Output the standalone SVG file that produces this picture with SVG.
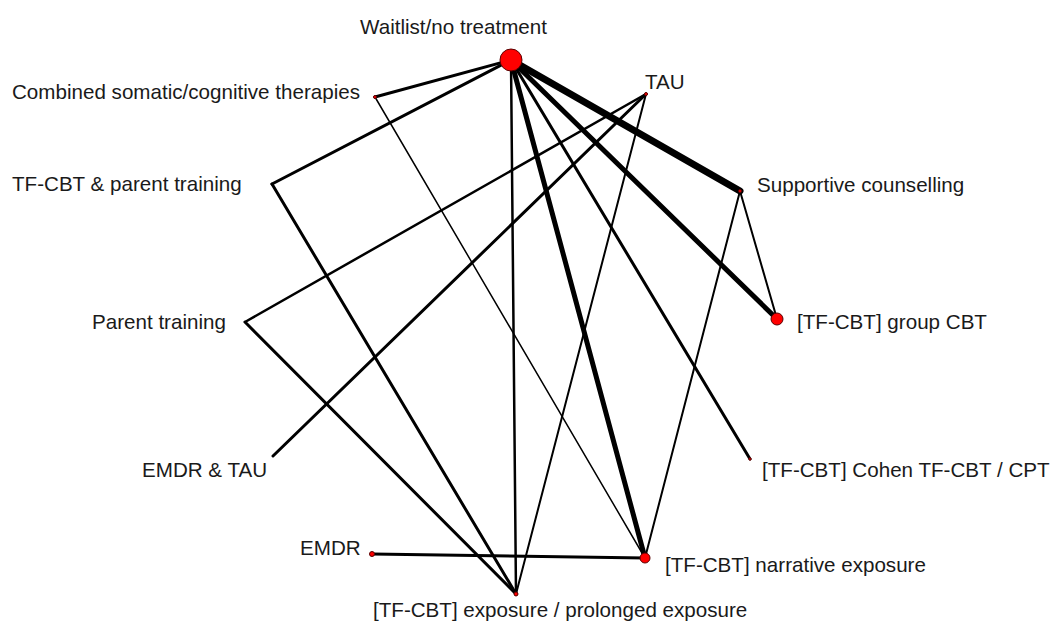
<svg xmlns="http://www.w3.org/2000/svg" width="1059" height="631" viewBox="0 0 1059 631">
<style>
.lbl{font-family:"Liberation Sans",Arial,sans-serif;font-size:20.6px;fill:#1a1a1a}
.e{stroke:#000;fill:none;stroke-linecap:round}
.n{fill:#ff0000;stroke:#5a0000;stroke-width:1}
</style>
<rect width="1059" height="631" fill="#fff"/>
<g id="connectors">
<line class="e" x1="511" y1="60" x2="375" y2="97" stroke-width="3"/>
<line class="e" x1="511" y1="60" x2="272" y2="184" stroke-width="3"/>
<line class="e" x1="511" y1="60" x2="740" y2="191" stroke-width="7"/>
<line class="e" x1="511" y1="60" x2="777" y2="319" stroke-width="5"/>
<line class="e" x1="511" y1="60" x2="750" y2="459" stroke-width="3"/>
<line class="e" x1="511" y1="60" x2="645" y2="558" stroke-width="5"/>
<line class="e" x1="511" y1="60" x2="516" y2="594" stroke-width="2.5"/>
<line class="e" x1="375" y1="97" x2="645" y2="558" stroke-width="1.5"/>
<line class="e" x1="272" y1="184" x2="516" y2="594" stroke-width="3"/>
<line class="e" x1="245" y1="322" x2="646" y2="94" stroke-width="2.5"/>
<line class="e" x1="245" y1="322" x2="516" y2="594" stroke-width="3"/>
<line class="e" x1="273" y1="456" x2="646" y2="94" stroke-width="3"/>
<line class="e" x1="646" y1="94" x2="516" y2="594" stroke-width="2"/>
<line class="e" x1="740" y1="191" x2="645" y2="558" stroke-width="2"/>
<line class="e" x1="740" y1="191" x2="777" y2="319" stroke-width="2"/>
<line class="e" x1="372" y1="554" x2="645" y2="558" stroke-width="3"/>
</g>
<g id="n-waitlist"><circle class="n" cx="511" cy="60" r="11"/><text class="lbl" x="360" y="34">Waitlist/no treatment</text></g>
<g id="n-combined"><circle class="n" cx="375" cy="97" r="1.5"/><text class="lbl" x="12" y="99">Combined somatic/cognitive therapies</text></g>
<g id="n-tau"><circle class="n" cx="646" cy="94" r="1.5"/><text class="lbl" x="645" y="89">TAU</text></g>
<g id="n-tfcbt-parent"><text class="lbl" x="12" y="191">TF-CBT &amp; parent training</text></g>
<g id="n-supportive"><circle class="n" cx="740" cy="191" r="1.5"/><text class="lbl" x="757" y="192">Supportive counselling</text></g>
<g id="n-parent"><text class="lbl" x="92" y="329">Parent training</text></g>
<g id="n-group"><circle class="n" cx="777" cy="319" r="6"/><text class="lbl" x="797" y="329">[TF-CBT] group CBT</text></g>
<g id="n-emdr-tau"><text class="lbl" x="142" y="477">EMDR &amp; TAU</text></g>
<g id="n-cohen"><circle class="n" cx="750" cy="459" r="1.2"/><text class="lbl" x="762" y="477">[TF-CBT] Cohen TF-CBT / CPT</text></g>
<g id="n-emdr"><circle class="n" cx="372" cy="554" r="2.5"/><text class="lbl" x="300" y="555">EMDR</text></g>
<g id="n-narrative"><circle class="n" cx="645" cy="558" r="5"/><text class="lbl" x="665" y="572">[TF-CBT] narrative exposure</text></g>
<g id="n-exposure"><circle class="n" cx="516" cy="594" r="2"/><text class="lbl" x="373" y="617">[TF-CBT] exposure / prolonged exposure</text></g>
</svg>
